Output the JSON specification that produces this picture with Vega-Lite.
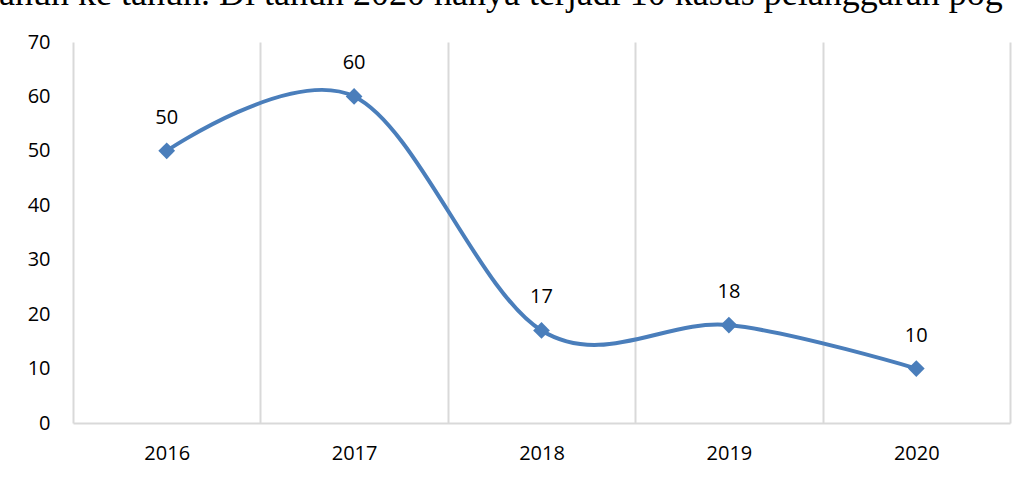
{
  "$schema": "https://vega.github.io/schema/vega-lite/v6.json",
  "width": 937,
  "height": 381,
  "autosize": {"type": "none"},
  "padding": {"left": 73, "top": 42, "right": 16, "bottom": 55},
  "background": "white",
  "title": {
    "text": "tahun ke tahun. Di tahun 2020 hanya terjadi 10 kasus pelanggaran pog",
    "anchor": "start",
    "frame": "group",
    "font": "Liberation Serif",
    "fontSize": 36,
    "fontWeight": "normal",
    "color": "black",
    "baseline": "alphabetic",
    "offset": 0,
    "dx": -84,
    "dy": 9
  },
  "config": {
    "view": {"stroke": null},
    "font": "Open Sans"
  },
  "data": {
    "values": [
      {"year": "2016", "value": 50},
      {"year": "2017", "value": 60},
      {"year": "2018", "value": 17},
      {"year": "2019", "value": 18},
      {"year": "2020", "value": 10}
    ]
  },
  "encoding": {
    "x": {
      "field": "year",
      "type": "ordinal",
      "bandPosition": 0.5,
      "scale": {"type": "band", "paddingInner": 0, "paddingOuter": 0},
      "axis": {
        "title": null,
        "labelAngle": 0,
        "labelFont": "Open Sans",
        "labelFontSize": 20,
        "labelColor": "black",
        "labelPadding": 20,
        "ticks": false,
        "tickSize": 0,
        "tickBand": "extent",
        "grid": true,
        "gridColor": "#d9d9d9",
        "gridWidth": 2,
        "domainColor": "#d9d9d9",
        "domainWidth": 2
      }
    },
    "y": {
      "field": "value",
      "type": "quantitative",
      "scale": {"domain": [0, 70]},
      "axis": {
        "title": null,
        "values": [0, 10, 20, 30, 40, 50, 60, 70],
        "grid": false,
        "domain": false,
        "ticks": false,
        "tickSize": 0,
        "labelPadding": 23,
        "labelFont": "Open Sans",
        "labelFontSize": 20,
        "labelColor": "black"
      }
    }
  },
  "layer": [
    {"mark": {"type": "line", "interpolate": "cardinal", "color": "#4A7EBB", "strokeWidth": 4}},
    {"mark": {"type": "point", "shape": "diamond", "filled": true, "size": 280, "color": "#4A7EBB", "opacity": 1}},
    {
      "mark": {"type": "text", "dy": -33, "baseline": "middle", "font": "Open Sans", "fontSize": 20, "color": "black"},
      "encoding": {"text": {"field": "value", "type": "quantitative"}}
    }
  ]
}
